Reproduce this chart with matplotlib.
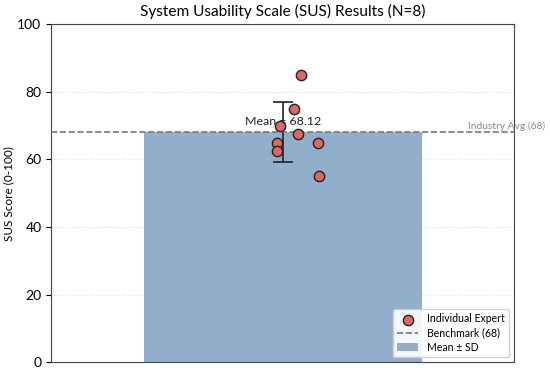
import numpy as np
from matplotlib import pyplot as plt
from matplotlib.axes import Axes

plt.rcParams["font.family"] = ["Lato", "DejaVu Sans"]

# per-expert SUS scores and the horizontal jitter used to place them
scores = [85, 75, 70, 67.5, 65, 65, 62.5, 55]
jitter = [0.040, 0.025, -0.006, 0.033, 0.076, -0.012, -0.012, 0.079]
benchmark = 68

mean = np.mean(scores)
sd = np.std(scores, ddof=1)

fig, ax = plt.subplots(figsize=(5.5, 3.73), dpi=100)
ax: Axes = ax

ax.bar([0], [mean], width=0.6, yerr=[sd], capsize=7.5, color="#93aecb",
       ecolor="#222222", error_kw={"elinewidth": 1.2, "capthick": 1.2},
       label="Mean ± SD", zorder=2)
ax.axhline(benchmark, color="#777777", linestyle="--", linewidth=1.2,
           label=f"Benchmark ({benchmark})", zorder=3)
ax.scatter(jitter, scores, s=55, color="#e06666", edgecolor="#222222",
           linewidth=1.0, label="Individual Expert", zorder=4)

ax.text(0, mean + 3, f"Mean = {mean:.2f}", ha="center", va="center",
        fontsize=8.9, color="#222222", zorder=3.5)
ax.text(0.4, benchmark + 0.3, f"Industry Avg ({benchmark})", ha="left",
        va="bottom", fontsize=7.4, color="#888888", clip_on=False)

ax.set_xlim(-0.5, 0.5)
ax.set_ylim(0, 100)
ax.set_xticks([])
ax.set_ylabel("SUS Score (0-100)", fontsize=8.5, labelpad=2)
ax.set_title("System Usability Scale (SUS) Results (N=8)", fontsize=11.1)
ax.yaxis.grid(True, linestyle=":", color="#dddddd", linewidth=0.8, zorder=0)
ax.set_axisbelow(True)
ax.tick_params(axis="y", labelsize=10)
for s in ax.spines.values():
    s.set_color("#444444")

handles, labels = ax.get_legend_handles_labels()
order = [labels.index("Individual Expert"), labels.index(f"Benchmark ({benchmark})"),
         labels.index("Mean ± SD")]
ax.legend([handles[i] for i in order], [labels[i] for i in order],
          loc="lower right", fontsize=7.6, framealpha=0.9, labelspacing=0.3,
          borderaxespad=0.5)

fig.subplots_adjust(left=0.093, right=0.935, top=0.935, bottom=0.029)
fig.savefig("out.png")
